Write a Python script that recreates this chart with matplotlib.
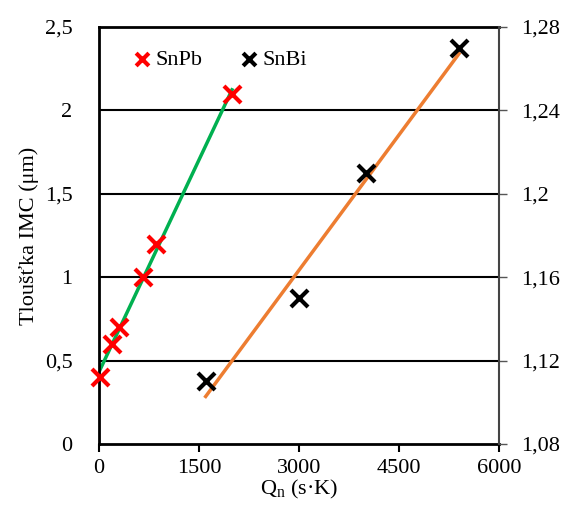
import matplotlib

matplotlib.use("Agg")
import matplotlib.pyplot as plt
import numpy as np

plt.rcParams["font.family"] = ["Liberation Serif", "DejaVu Serif"]
plt.rcParams["font.size"] = 16

# SnPb: left axis (IMC thickness, um)
snpb_q = [15, 195, 300, 660, 855, 1995]
snpb_h = [0.40, 0.60, 0.70, 1.00, 1.20, 2.10]

# SnBi: right axis
snbi_q = [1600, 3000, 4000, 5400]
snbi_h = [1.11, 1.15, 1.21, 1.27]

x_ticks = [0, 1500, 3000, 4500, 6000]
left_ticks = [0, 0.5, 1, 1.5, 2, 2.5]
left_labels = ["0", "0,5", "1", "1,5", "2", "2,5"]
right_ticks = [1.08, 1.12, 1.16, 1.20, 1.24, 1.28]
right_labels = ["1,08", "1,12", "1,16", "1,2", "1,24", "1,28"]

fig = plt.figure(figsize=(5.65, 5.16), dpi=100)
ax = fig.add_axes([99 / 565, 1 - 444 / 516, 400 / 565, 417 / 516])
ax2 = ax.twinx()

ax.set_xlim(0, 6000)
ax.set_ylim(0, 2.5)
ax2.set_ylim(1.08, 1.28)

for y in left_ticks[1:-1]:
    ax.axhline(y, color="black", linewidth=1.5, zorder=0)

# linear trendlines
p1 = np.polyfit(snpb_q, snpb_h, 1)
xs1 = np.array([0, max(snpb_q)])
ax.plot(xs1, np.polyval(p1, xs1), color="#00b050", linewidth=2.5, zorder=2)
p2 = np.polyfit(snbi_q, snbi_h, 1)
xs2 = np.array([min(snbi_q), max(snbi_q)])
ax2.plot(xs2, np.polyval(p2, xs2), color="#ed7d31", linewidth=2.5, zorder=2)

h1 = ax.scatter(snpb_q, snpb_h, marker="x", s=150, linewidths=3, color="red",
                zorder=3, clip_on=False, label="SnPb")
h2 = ax2.scatter(snbi_q, snbi_h, marker="x", s=150, linewidths=3, color="black",
                 zorder=3, clip_on=False, label="SnBi")

ax.set_xticks(x_ticks)
ax.set_xticklabels([str(v) for v in x_ticks])
ax.set_yticks(left_ticks)
ax.set_yticklabels(left_labels)
ax2.set_yticks(right_ticks)
ax2.set_yticklabels(right_labels)

ax.tick_params(axis="x", direction="out", length=6, width=1.5, pad=5)
ax.tick_params(axis="y", length=0, pad=19)
ax2.tick_params(axis="y", direction="out", length=6, width=1, color="#555555", pad=10)

for s in ["left", "bottom", "top"]:
    ax.spines[s].set_linewidth(2)
    ax.spines[s].set_color("black")
for s in ["left", "bottom", "top"]:
    ax2.spines[s].set_visible(False)
ax2.spines["right"].set_color("#444444")
ax2.spines["right"].set_linewidth(1.5)
ax.spines["right"].set_visible(False)

ax.set_xlabel("Q$_\\mathregular{n}$ (s·K)", labelpad=0)
ax.set_ylabel("Tloušťka IMC (μm)", labelpad=4)

ax.legend(handles=[h1, h2], loc="upper left", ncol=2, frameon=False,
          bbox_to_anchor=(0.025, 0.995), handletextpad=0.0, columnspacing=1.5,
          handlelength=1.2, scatterpoints=1, markerscale=0.75)

fig.savefig("out.png", dpi=100)
